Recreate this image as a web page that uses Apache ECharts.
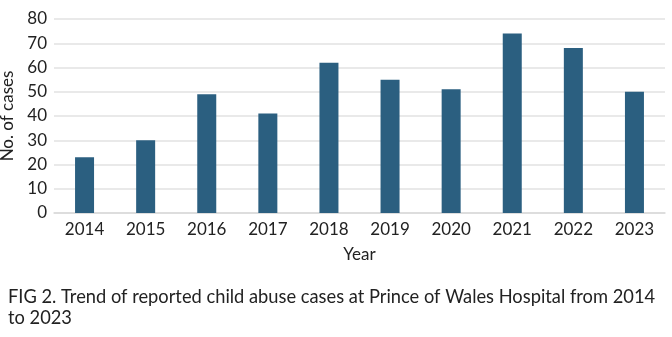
<!DOCTYPE html>
<html><head><meta charset="utf-8">
<script src="https://cdn.jsdelivr.net/npm/echarts@6/dist/echarts.min.js"></script>
<style>html,body{margin:0;padding:0;background:#fff}#c{width:672px;height:337px}</style>
</head><body><div id="c"></div>
<script>
const years = ['2014','2015','2016','2017','2018','2019','2020','2021','2022','2023'];
const cases = [23, 30, 49, 41, 62, 55, 51, 74, 68, 50];
const yTicks = [0, 10, 20, 30, 40, 50, 60, 70, 80];
const caption = 'FIG 2. Trend of reported child abuse cases at Prince of Wales Hospital from 2014\nto 2023';

const font = 'Lato, "Open Sans", sans-serif';
const chart = echarts.init(document.getElementById('c'));
chart.setOption({
  animation: false,
  title: {
    text: caption, left: 8, top: 287, padding: 0,
    textStyle: {fontFamily: font, fontSize: 18.3, fontWeight: 'normal', color: '#222', lineHeight: 21}
  },
  grid: {left: 54, right: 7, top: 19, bottom: 124, containLabel: false, outerBoundsMode: 'none'},
  xAxis: {
    type: 'category', data: years,
    name: 'Year', nameLocation: 'middle', nameGap: 33,
    nameTextStyle: {fontFamily: font, fontSize: 17, color: '#222'},
    axisLine: {lineStyle: {color: '#d9d9d9', width: 1.5}},
    axisTick: {show: false},
    axisLabel: {fontFamily: font, fontSize: 17, color: '#222', margin: 8}
  },
  yAxis: {
    type: 'value', min: yTicks[0], max: yTicks[yTicks.length - 1], interval: 10,
    name: 'No. of cases', nameLocation: 'middle', nameGap: 32,
    nameTextStyle: {fontFamily: font, fontSize: 17, color: '#222'},
    axisLine: {show: false}, axisTick: {show: false},
    axisLabel: {fontFamily: font, fontSize: 17, color: '#222', margin: 7},
    splitLine: {lineStyle: {color: '#e2e2e2', width: 1.5}}
  },
  series: [{
    type: 'bar', data: cases, barWidth: 19,
    itemStyle: {color: '#2b5f80'}
  }]
});
</script></body></html>
